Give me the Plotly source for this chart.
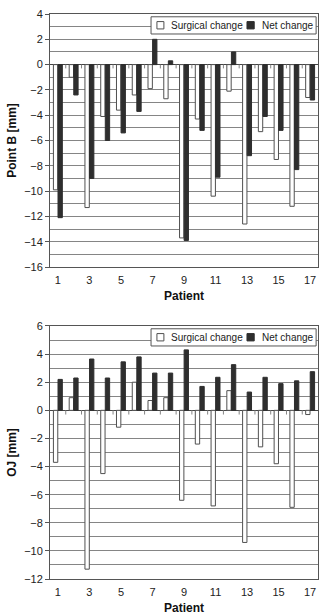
import plotly.graph_objects as go
from plotly.subplots import make_subplots

patients = list(range(1, 18))
pointb_surgical = [-9.9, -1.0, -11.3, -4.1, -3.6, -2.4, -1.9, -2.7, -13.7, -4.3, -10.4, -2.1, -12.6, -5.3, -7.5, -11.2, -2.6]
pointb_net = [-12.1, -2.4, -9.0, -6.0, -5.4, -3.7, 2.0, 0.3, -13.9, -5.2, -8.9, 1.0, -7.2, -4.1, -5.2, -8.3, -2.8]
oj_surgical = [-3.7, 0.9, -11.3, -4.5, -1.2, 2.0, 0.7, 0.9, -6.4, -2.4, -6.8, 1.4, -9.4, -2.6, -3.8, -6.9, -0.3]
oj_net = [2.2, 2.3, 3.65, 2.3, 3.45, 3.8, 2.65, 2.65, 4.3, 1.7, 2.35, 3.25, 1.3, 2.35, 1.9, 2.1, 2.75]
series_names = ["Surgical change", "Net change"]
x_ticks = [1, 3, 5, 7, 9, 11, 13, 15, 17]
pointb_ticks = list(range(-16, 5, 2))
oj_ticks = list(range(-12, 7, 2))

WHITE = "#ffffff"
DARK = "#2e2e2e"
EDGE = "#505050"
GRID = "#858585"
FONT = "Liberation Sans, Arial, sans-serif"

fig = make_subplots(rows=2, cols=1, vertical_spacing=0.1044)

for row, (s, n) in enumerate([(pointb_surgical, pointb_net), (oj_surgical, oj_net)], start=1):
    xr = "x" if row == 1 else f"x{row}"
    yr = "y" if row == 1 else f"y{row}"
    fig.add_trace(go.Bar(x=patients, y=s, name=series_names[0], showlegend=False,
                         marker=dict(color=WHITE, line=dict(color=EDGE, width=1))), row=row, col=1)
    fig.add_trace(go.Bar(x=patients, y=n, name=series_names[1], showlegend=False,
                         marker=dict(color=DARK, line=dict(color=DARK, width=1))), row=row, col=1)
    # category boundary ticks on the zero line
    for k in range(1, 17):
        fig.add_shape(type="line", x0=k + 0.5, x1=k + 0.5, y0=0, y1=-0.3,
                      xref=xr, yref=yr, line=dict(color=GRID, width=1))
    # legend box
    dx, dy = f"{xr} domain", f"{yr} domain"
    fig.add_shape(type="rect", x0=0.377, x1=0.993, y0=0.921, y1=0.989, xref=dx, yref=dy,
                  fillcolor="white", line=dict(color="#555", width=1), layer="above")
    fig.add_shape(type="rect", x0=0.399, x1=0.425, y0=0.941, y1=0.970, xref=dx, yref=dy,
                  fillcolor=WHITE, line=dict(color=EDGE, width=1), layer="above")
    fig.add_shape(type="rect", x0=0.735, x1=0.762, y0=0.941, y1=0.970, xref=dx, yref=dy,
                  fillcolor=DARK, line=dict(color=DARK, width=1), layer="above")
    fig.add_annotation(x=0.443, y=0.956, xref=dx, yref=dy, text=series_names[0], showarrow=False,
                       xanchor="left", yanchor="middle", font=dict(family=FONT, size=10, color="#222"))
    fig.add_annotation(x=0.783, y=0.956, xref=dx, yref=dy, text=series_names[1], showarrow=False,
                       xanchor="left", yanchor="middle", font=dict(family=FONT, size=10, color="#222"))

axis_common = dict(showline=True, linecolor="#555", linewidth=1, mirror=True,
                   tickfont=dict(family=FONT, size=11, color="#222"))

fig.update_xaxes(range=[0.5, 17.5], tickmode="array", tickvals=x_ticks, ticks="", showgrid=False,
                 zeroline=False, ticklabelstandoff=3,
                 title=dict(text="<b>Patient</b>", font=dict(family=FONT, size=12, color="#111"), standoff=6),
                 **axis_common)
fig.update_yaxes(range=[-16, 4], tickvals=pointb_ticks, row=1, col=1)
fig.update_yaxes(range=[-12, 6], tickvals=oj_ticks, row=2, col=1)
fig.update_yaxes(tickmode="array", ticks="outside", ticklen=4, tickcolor="#555", showgrid=True, gridcolor=GRID, gridwidth=1,
                 minor=dict(dtick=1, showgrid=True, gridcolor=GRID, gridwidth=1),
                 zeroline=True, zerolinecolor="#444", zerolinewidth=1, **axis_common)
fig.update_yaxes(title=dict(text="<b>Point B [mm]</b>", font=dict(family=FONT, size=12, color="#111"), standoff=4), row=1, col=1)
fig.update_yaxes(title=dict(text="<b>OJ [mm]</b>", font=dict(family=FONT, size=12, color="#111"), standoff=4), row=2, col=1)

fig.update_layout(
    width=322, height=616, margin=dict(l=50, r=4, t=14, b=37),
    paper_bgcolor="white", plot_bgcolor="white",
    barmode="group", bargap=0.42, bargroupgap=0.05, showlegend=False,
    font=dict(family=FONT),
)
fig.write_html("out.html")
